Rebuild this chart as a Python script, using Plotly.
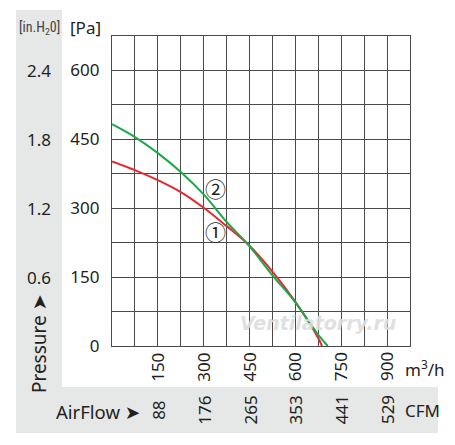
import plotly.graph_objects as go

# ---- data ----
flow_1 = [0, 75, 150, 225, 300, 375, 444, 525, 600, 675, 687]
pa_1 = [402, 383, 361, 335, 301, 261, 222, 162, 96, 17, 0]
flow_2 = [0, 75, 150, 225, 300, 375, 444, 525, 600, 675, 706]
pa_2 = [483, 455, 420, 379, 330, 270, 222, 154, 95, 24, 0]

m3h_ticks = [150, 300, 450, 600, 750, 900]
cfm_labels = ["88", "176", "265", "353", "441", "529"]
pa_ticks = [0, 150, 300, 450, 600]
inh2o_labels = ["0.6", "1.2", "1.8", "2.4"]
inh2o_pa = [150, 300, 450, 600]

X_MAX, Y_MAX = 975, 675
GRID_STEP = 75

FONT = "Source Sans Pro, Noto Sans, DejaVu Sans, sans-serif"
TXT = "#231f20"
GREY = "#e6e7e7"
GRIDC = "#4a4a4a"

fig = go.Figure()
fig.add_trace(go.Scatter(x=flow_1, y=pa_1, mode="lines",
                         line=dict(color="#e8262d", width=2, shape="spline", smoothing=1.0),
                         hoverinfo="skip", showlegend=False))
fig.add_trace(go.Scatter(x=flow_2, y=pa_2, mode="lines",
                         line=dict(color="#1ba84b", width=2, shape="spline", smoothing=1.0),
                         hoverinfo="skip", showlegend=False))

# grey L-shaped band
fig.add_shape(type="rect", xref="paper", yref="paper", x0=-0.3221, x1=-0.1678,
              y0=-0.2806, y1=1.0839, fillcolor=GREY, line_width=0, layer="below")
fig.add_shape(type="rect", xref="paper", yref="paper", x0=-0.3221, x1=1.0940,
              y0=-0.2806, y1=-0.1323, fillcolor=GREY, line_width=0, layer="below")

def f(size=17, color=TXT, family=FONT, **kw):
    return dict(size=size, color=color, family=family, **kw)

ann = []
# x labels (m3/h and CFM)
for v, c in zip(m3h_ticks, cfm_labels):
    ann.append(dict(x=v, y=-0.0677, xref="x", yref="paper", xanchor="center", yanchor="middle",
                    text=str(v), textangle=-90, showarrow=False, font=f()))
    ann.append(dict(x=v, y=-0.2065, xref="x", yref="paper", xanchor="center", yanchor="middle",
                    text=c, textangle=-90, showarrow=False, font=f()))
ann.append(dict(x=0.977, y=-0.0710, xref="paper", yref="paper", xanchor="left", yanchor="middle",
                text="m<sup>3</sup>/h", showarrow=False, font=f()))
ann.append(dict(x=0.977, y=-0.2065, xref="paper", yref="paper", xanchor="left", yanchor="middle",
                text="CFM", showarrow=False, font=f()))
ann.append(dict(x=0.102, y=-0.2097, xref="paper", yref="paper", xanchor="right", yanchor="middle",
                text="AirFlow ➤", showarrow=False, font=f(size=18.5)))
# in.H2O labels
for lab, p in zip(inh2o_labels, inh2o_pa):
    ann.append(dict(x=-0.2447, y=p, xref="paper", yref="y", xanchor="center", yanchor="middle",
                    text=lab, showarrow=False, font=f()))
ann.append(dict(x=-0.2447, y=0.0065, xref="paper", yref="paper", xanchor="center", yanchor="middle",
                text="Pressure ➤", textangle=-90, showarrow=False, font=f(size=19)))
ann.append(dict(x=-0.2447, y=1.026, xref="paper", yref="paper", xanchor="center", yanchor="middle",
                text="[in.H<sub>2</sub>0]", showarrow=False,
                font=f(size=14, color="#444",
                       family="Liberation Sans Narrow, Roboto Condensed, sans-serif")))
ann.append(dict(x=-0.0302, y=1.026, xref="paper", yref="paper", xanchor="right", yanchor="middle",
                text="[Pa]", showarrow=False, font=f()))
# curve labels
ann.append(dict(x=339, y=345, xref="x", yref="y", xanchor="center", yanchor="middle",
                text="②", showarrow=False, font=f(size=21, family="Noto Sans CJK JP, DejaVu Sans")))
ann.append(dict(x=339, y=251, xref="x", yref="y", xanchor="center", yanchor="middle",
                text="①", showarrow=False, font=f(size=21, family="Noto Sans CJK JP, DejaVu Sans")))
# watermark
ann.append(dict(x=675, y=50, xref="x", yref="y", xanchor="center", yanchor="middle",
                text="Ventilatorry.ru", showarrow=False, opacity=0.9,
                font=f(size=19, color="#dddddd", family="DejaVu Sans", style="italic",
                       weight="bold")))

grid_vals = list(range(0, Y_MAX + 1, GRID_STEP))
fig.update_layout(
    width=455, height=445,
    margin=dict(l=112, r=45, t=36, b=99),
    paper_bgcolor="white", plot_bgcolor="white",
    annotations=ann,
    xaxis=dict(range=[0, X_MAX], tickvals=list(range(0, X_MAX + 1, GRID_STEP)),
               showticklabels=False, showgrid=True, gridcolor=GRIDC, gridwidth=1,
               zeroline=False, showline=True, linecolor=GRIDC, linewidth=1.3,
               mirror=True, fixedrange=True),
    yaxis=dict(range=[0, Y_MAX], tickvals=grid_vals,
               ticktext=[str(v) if v in pa_ticks else "" for v in grid_vals],
               showgrid=True, gridcolor=GRIDC, gridwidth=1, zeroline=False,
               showline=True, linecolor=GRIDC, linewidth=1.3, mirror=True,
               ticks="", ticklabelstandoff=8,
               tickfont=f(), fixedrange=True),
)

fig.write_html("out.html", config={"displayModeBar": False},
               post_script="document.body.style.margin='0px';")
